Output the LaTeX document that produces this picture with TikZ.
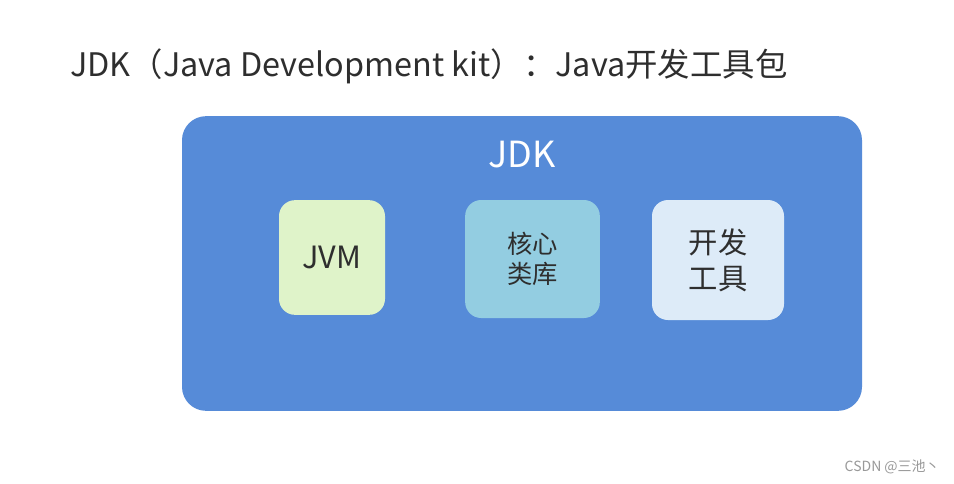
\documentclass[tikz,border=0pt]{standalone}
\usepackage{fontspec}
\setmainfont{Noto Sans CJK SC}
\definecolor{jdkblue}{HTML}{568BD8}
\definecolor{jvmgreen}{HTML}{DFF3C9}
\definecolor{libblue}{HTML}{93CDE1}
\definecolor{toolblue}{HTML}{DDEBF8}
\definecolor{textgray}{HTML}{2E2E2E}
\begin{document}
\begin{tikzpicture}[x=0.75pt,y=-0.75pt,
    part/.style = {rounded corners=12pt, inner sep=0pt, align=center,
      text=textgray, font=\fontsize{19}{23}\selectfont}
  ]
  \useasboundingbox[fill=white] (0,0) rectangle (954,483);
  % title
  \node[anchor=base west, inner sep=0pt, text=textgray,
    font=\fontsize{24.3}{28}\selectfont] (title) at (70,76)
    {JDK（Java Development kit）：Java开发工具包};
  % outer box
  \node[fill=jdkblue, rounded corners=18pt, minimum width=510pt,
    minimum height=221pt, inner sep=0pt] (jdk) at (522,263.5) {};
  \node[text=white, font=\fontsize{27}{30}\selectfont, inner sep=0pt]
    (jdklabel) at (522,155) {JDK};
  % parts of the JDK
  \node[part, fill=jvmgreen, minimum width=79.5pt, minimum height=86pt,
    font=\fontsize{23}{27}\selectfont] (jvm) at (332,257.5) {JVM};
  \node[part, fill=libblue, minimum width=101pt, minimum height=88.5pt]
    (lib) at (532.5,259) {核心\\类库};
  \node[part, fill=toolblue, minimum width=99pt, minimum height=90pt,
    font=\fontsize{22}{27}\selectfont] (tools) at (718,260) {开发\\工具};
  % watermark
  \node[anchor=east, text=gray!80, font=\fontsize{10.5}{12}\selectfont,
    inner sep=0pt] (mark) at (940,467) {CSDN @三池丶};
\end{tikzpicture}
\end{document}
